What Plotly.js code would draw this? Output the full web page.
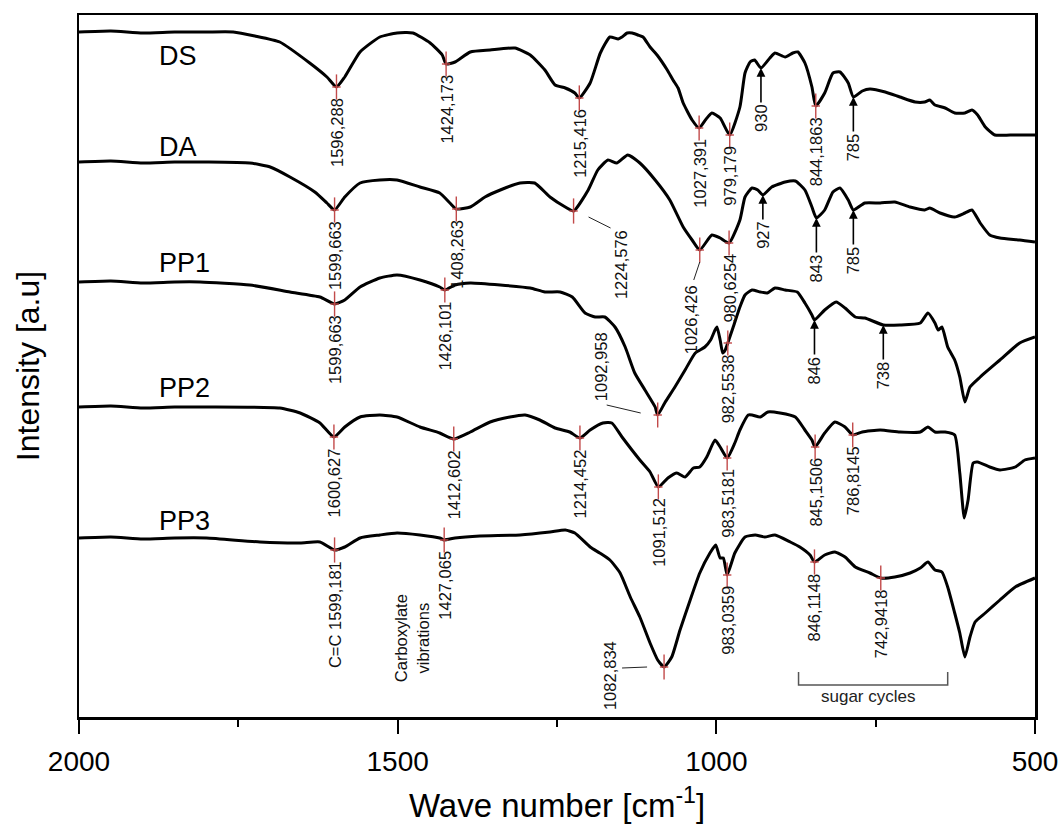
<!DOCTYPE html>
<html><head><meta charset="utf-8">
<script src="https://cdn.plot.ly/plotly-3.0.1.min.js"></script>
<style>html,body{margin:0;padding:0;background:#fff;}#chart{width:1061px;height:825px;}</style>
</head><body><div id="chart"></div>
<script>
// ---------- DATA (wavenumber cm-1, intensity a.u.) ----------
const DS_w = [2000,1950,1900,1850,1800,1758,1724,1685,1638,1611,1596,1583,1559,1528,1501,1476,1449,1430,1424,1410,1386,1355,1316,1292,1269,1253,1237,1222,1215,1198,1182,1167,1154,1148,1140,1132,1123,1115,1104,1093,1077,1068,1060,1052,1038,1027,1016,1007,994,979,963,955,947,940,930,916,908,892,880,872,861,850,844,830,817,806,793,785,771,759,735,712,688,673,665,657,641,626,610,599,590,578,563,539,500];
const DS_v = [685,686,684,685,685,685,681,675,654,640,630,640,665,680,684,684,674,662,653,655,665,667,669,662,647,632,629,624,619,634,664,680,678,680,684,684,682,680,670,662,647,637,629,614,597,589,598,604,599,582,610,644,655,657,649,659,664,660,664,665,654,630,611,624,644,645,634,620,626,628,625,620,615,615,617,612,609,604,604,607,602,590,582,582,582];

const DA_w = [2000,1950,1900,1850,1800,1732,1700,1669,1630,1611,1599,1583,1559,1528,1501,1465,1434,1418,1408,1386,1363,1339,1308,1285,1261,1237,1224,1201,1186,1170,1156,1139,1120,1096,1073,1052,1038,1026,1007,994,980,963,955,944,935,927,913,892,876,861,850,843,830,817,806,793,785,767,743,720,696,673,665,649,626,610,599,586,571,555,524,500];
const DA_v = [555,556,554,555,555,554,550,540,525,514,507,520,534,537,537,530,524,514,508,510,520,527,534,534,520,510,506,527,547,557,554,562,554,537,517,490,477,467,482,479,474,497,520,529,527,522,530,535,536,527,510,499,507,525,529,517,507,514,514,515,510,507,509,504,500,504,507,494,482,479,477,475];

const PP1_w = [2000,1950,1900,1850,1810,1732,1669,1622,1599,1583,1559,1528,1501,1465,1434,1426,1410,1386,1339,1292,1269,1245,1226,1206,1190,1175,1159,1143,1128,1112,1096,1092,1081,1065,1049,1033,1018,1009,1002,999,994,990,986,982,974,963,955,944,931,920,908,892,873,861,850,846,830,812,798,782,767,738,712,680,668,657,652,646,637,626,618,610,602,586,555,524,500];
const PP1_v = [435,436,434,435,435,432,425,420,413,417,430,439,442,437,430,427,432,434,432,429,425,425,420,404,400,400,390,370,344,327,310,302,314,330,347,364,370,377,387,390,377,364,367,374,389,410,422,427,425,424,429,427,425,414,402,397,407,415,409,400,399,392,392,394,404,394,387,390,370,357,340,315,330,340,357,374,380];

const PP2_w = [2000,1950,1900,1850,1800,1685,1653,1622,1600,1583,1559,1528,1501,1465,1434,1412,1386,1355,1324,1300,1277,1253,1230,1214,1198,1178,1164,1148,1120,1104,1091,1076,1062,1049,1036,1026,1015,1002,994,983,971,963,950,944,931,919,900,876,861,850,845,830,814,798,786,771,743,712,680,668,657,641,626,618,611,605,597,590,571,555,531,516,500];
const PP2_v = [310,311,309,310,310,309,304,294,280,290,300,302,300,290,284,278,285,295,300,302,297,289,285,279,287,294,294,280,257,245,230,239,244,240,249,250,260,277,270,259,274,287,302,302,300,305,304,300,287,277,270,284,295,290,282,285,287,285,285,290,285,285,282,244,199,217,254,255,250,247,250,257,259];

const PP3_w = [2000,1950,1900,1850,1800,1716,1653,1622,1599,1583,1559,1528,1501,1465,1434,1427,1410,1371,1308,1261,1237,1222,1198,1183,1167,1151,1135,1120,1104,1092,1082,1070,1057,1041,1026,1010,1001,994,989,983,971,955,939,924,908,884,869,853,846,830,814,798,782,759,742,720,696,680,668,657,646,637,626,618,610,602,594,578,555,531,500];
const PP3_v = [179,180,178,179,179,175,174,175,167,170,179,182,184,182,179,177,179,181,182,185,187,184,170,164,157,144,120,100,74,57,50,60,87,117,144,164,172,159,159,142,164,180,182,180,182,175,170,162,155,162,165,160,150,144,139,140,144,149,155,147,145,130,104,84,60,80,95,104,117,130,139];

const seriesNames = ['DS','DA','PP1','PP2','PP3'];

// peak marks (red) with labels
const DS_peakW = [1596,1424,1215,1027,979,844];
const DS_peakText = ['1596,288','1424,173','1215,416','1027,391','979,179','844,1863'];
const DA_peakW = [1599,1408,1224,1026,980];
const DA_peakText = ['1599,663','1408,263','1224,576','1026,426','980,6254'];
const PP1_peakW = [1599,1426,1092,982];
const PP1_peakText = ['1599,663','1426,101','1092,958','982,5538'];
const PP2_peakW = [1600,1412,1214,1091,983,845,786];
const PP2_peakText = ['1600,627','1412,602','1214,452','1091,512','983,5181','845,1506','786,8145'];
const PP3_peakW = [1599,1427,1082,983,846,742];
const PP3_peakText = ['C=C 1599,181','1427,065','1082,834','983,0359','846,1148','742,9418'];

// arrow-marked bands
const DS_arrowW = [930,785];  const DS_arrowText = ['930','785'];
const DA_arrowW = [927,843,785]; const DA_arrowText = ['927','843','785'];
const PP1_arrowW = [846,738]; const PP1_arrowText = ['846','738'];

const groupText = 'Carboxylate<br>vibrations';
const sugarText = 'sugar cycles';
const sugarRange = [871, 637];

const xTickVals = [2000,1500,1000,500];
const xMinorTickVals = [1750,1250,750];

// ---------- BUILD ----------
const series = {
  DS:{w:DS_w,v:DS_v,pw:DS_peakW,pt:DS_peakText,aw:DS_arrowW,at:DS_arrowText},
  DA:{w:DA_w,v:DA_v,pw:DA_peakW,pt:DA_peakText,aw:DA_arrowW,at:DA_arrowText},
  PP1:{w:PP1_w,v:PP1_v,pw:PP1_peakW,pt:PP1_peakText,aw:PP1_arrowW,at:PP1_arrowText},
  PP2:{w:PP2_w,v:PP2_v,pw:PP2_peakW,pt:PP2_peakText,aw:[],at:[]},
  PP3:{w:PP3_w,v:PP3_v,pw:PP3_peakW,pt:PP3_peakText,aw:[],at:[]}
};
function valueAt(ws, vs, w){
  for(let i=0;i<ws.length-1;i++){
    if(ws[i]>=w && ws[i+1]<=w){
      const t=(ws[i]-w)/(ws[i]-ws[i+1]);
      return vs[i]+t*(vs[i+1]-vs[i]);
    }
  }
  return vs[vs.length-1];
}
const FONT = 'Liberation Sans, Arial, sans-serif';
const RED = '#c24a4a';

// label placement styles (layout only)
const nameShift = {DS:-24, DA:15, PP1:19, PP2:19, PP3:17};
const special = {
  'DA|1224,576': {xshift:47, yshift:-17, yanchor:'top', leader:[[15,-6],[37,-17]]},
  'DA|1026,426': {xshift:-9, yshift:-33, yanchor:'top', leader:[[0,-12],[-6,-30]]},
  'PP1|1092,958': {xshift:-57, yshift:12, yanchor:'bottom', leader:[[-51,10],[-17,2]]},
  'PP3|1082,834': {xshift:-54, yshift:-9, yanchor:'middle', leader:[[-42,-1],[-17,0]]}
};
const arrowLen = {'DA|927':40};

const traces = [];
const annotations = [];
const shapes = [];
const markX = [], markY = [];

seriesNames.forEach(name=>{
  const s = series[name];
  traces.push({x:s.w, y:s.v, type:'scatter', mode:'lines',
    line:{color:'#000', width:3, shape:'spline', smoothing:0.5},
    hoverinfo:'skip', showlegend:false});
  annotations.push({x:1878, y:s.v[0], xref:'x', yref:'y', text:name, showarrow:false,
    xanchor:'left', yanchor:'middle', yshift:nameShift[name],
    font:{family:FONT, size:27, color:'#000'}});
  s.pw.forEach((w,i)=>{
    const y = valueAt(s.w, s.v, w);
    markX.push(w); markY.push(y);
    const key = name+'|'+s.pt[i];
    const sp = special[key] || {xshift:0, yshift:-9, yanchor:'top'};
    annotations.push({x:w, y:y, xref:'x', yref:'y', text:s.pt[i], showarrow:false,
      textangle:-90, xanchor:'center', yanchor:sp.yanchor, xshift:sp.xshift, yshift:sp.yshift,
      font:{family:FONT, size:16.5, color:'#111'}});
    if(sp.leader){
      shapes.push({type:'line', xref:'x', yref:'y', xsizemode:'pixel', ysizemode:'pixel',
        xanchor:w, yanchor:y, x0:sp.leader[0][0], y0:sp.leader[0][1], x1:sp.leader[1][0], y1:sp.leader[1][1],
        line:{color:'#222', width:1}});
    }
  });
  s.aw.forEach((w,i)=>{
    const y = valueAt(s.w, s.v, w);
    const key = name+'|'+s.at[i];
    annotations.push({x:w, y:y, xref:'x', yref:'y', text:s.at[i], showarrow:true,
      ax:0, ay:(arrowLen[key]||50), textangle:-90, arrowhead:2, arrowsize:1.1, arrowwidth:1.6,
      arrowcolor:'#000', standoff:0, font:{family:FONT, size:16.5, color:'#111'}});
  });
});

// red peak marks
traces.push({x:markX, y:markY, type:'scatter', mode:'markers', hoverinfo:'skip', showlegend:false,
  marker:{symbol:'line-ns', size:18, line:{color:RED, width:1.4}, color:RED}});
traces.push({x:markX, y:markY, type:'scatter', mode:'markers', hoverinfo:'skip', showlegend:false,
  marker:{symbol:'line-ew', size:6, line:{color:RED, width:1.4}, color:RED}});

// carboxylate note, relative to 1427 band of PP3
annotations.push({x:1427, y:valueAt(PP3_w,PP3_v,1427), xref:'x', yref:'y', text:groupText,
  showarrow:false, textangle:-90, xanchor:'center', yanchor:'middle', xshift:-33, yshift:-98,
  font:{family:FONT, size:16.5, color:'#111'}});

// sugar cycles bracket
shapes.push({type:'path', xref:'x', yref:'y', ysizemode:'pixel', yanchor:0,
  path:'M '+sugarRange[0]+',45 L '+sugarRange[0]+',32 L '+sugarRange[1]+',32 L '+sugarRange[1]+',45',
  line:{color:'#555', width:1.5}});
annotations.push({x:(sugarRange[0]+sugarRange[1])/2, y:21, xref:'x', yref:'y', text:sugarText,
  showarrow:false, xanchor:'center', yanchor:'middle', xshift:-5,
  font:{family:FONT, size:17, color:'#222'}});

const layout = {
  width:1061, height:825,
  margin:{l:79, r:26, t:15, b:108, pad:0},
  paper_bgcolor:'#fff', plot_bgcolor:'#fff',
  font:{family:FONT, color:'#000'},
  showlegend:false,
  xaxis:{range:[2000,500], tickvals:xTickVals, ticktext:xTickVals.map(String),
    ticks:'outside', ticklen:14, tickwidth:2, tickcolor:'#000',
    minor:{tickvals:xMinorTickVals, ticks:'outside', ticklen:7, tickwidth:2, tickcolor:'#000'},
    showline:true, linecolor:'#000', linewidth:2.5, mirror:true,
    showgrid:false, zeroline:false, ticklabelstandoff:4,
    tickfont:{family:FONT, size:28, color:'#000'},
    title:{text:'Wave number [cm<sup>-1</sup>]', font:{family:FONT, size:33, color:'#000'}, standoff:18}},
  yaxis:{range:[0,702], showticklabels:false, ticks:'', showgrid:false, zeroline:false,
    showline:true, linecolor:'#000', linewidth:2.5, mirror:true,
    title:{text:'Intensity [a.u]', font:{family:FONT, size:32, color:'#000'}, standoff:28}},
  annotations:annotations,
  shapes:shapes
};
Plotly.newPlot('chart', traces, layout, {staticPlot:true, displayModeBar:false});
</script></body></html>
